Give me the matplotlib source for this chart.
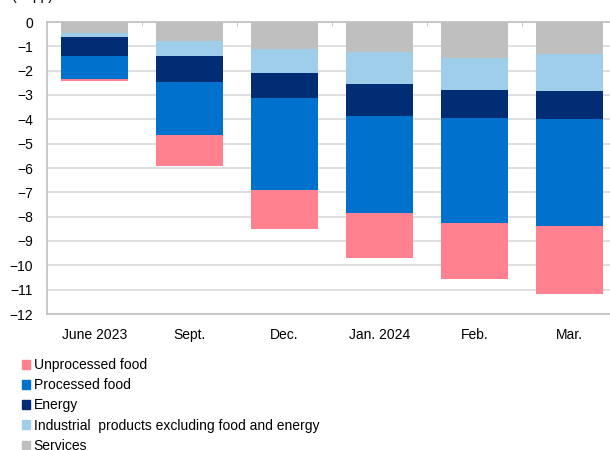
import matplotlib
matplotlib.use('Agg')
import matplotlib.pyplot as plt
from matplotlib.patches import Patch
import numpy as np

plt.rcParams['font.family'] = ['Liberation Sans', 'DejaVu Sans']

months = ["June 2023", "Sept.", "Dec.", "Jan. 2024", "Feb.", "Mar."]

# contributions in percentage points (stacked downward from zero)
services = [-0.46, -0.80, -1.11, -1.24, -1.46, -1.33]
industrial = [-0.15, -0.61, -0.99, -1.31, -1.34, -1.50]
energy = [-0.80, -1.05, -1.01, -1.33, -1.15, -1.15]
processed = [-0.94, -2.17, -3.79, -3.98, -4.30, -4.42]
unprocessed = [-0.08, -1.30, -1.62, -1.84, -2.30, -2.79]

series = [
    ("Services", services, "#BFBFBF"),
    ("Industrial  products excluding food and energy", industrial, "#9FCEEB"),
    ("Energy", energy, "#002D74"),
    ("Processed food", processed, "#0072CE"),
    ("Unprocessed food", unprocessed, "#FF808F"),
]

fig = plt.figure(figsize=(6.1, 4.5), dpi=100)
ax = fig.add_axes([47/610, 1-314/450, 570/610, 292/450])

x = np.arange(len(months))
bottom = np.zeros(len(months))
for name, vals, col in series:
    ax.bar(x, vals, 0.71, bottom=bottom, color=col, label=name, zorder=3)
    bottom += np.array(vals)

ax.set_xlim(-0.5, 5.5)
ax.set_ylim(-12, 0)
ax.set_yticks(range(-12, 1))
ax.yaxis.grid(True, color="#D9D9D9", linewidth=1.2, zorder=0)
ax.set_axisbelow(True)

for s in ["left", "top", "bottom"]:
    ax.spines[s].set_color("#BFBFBF")
    ax.spines[s].set_linewidth(1.2)
ax.spines["right"].set_visible(False)

ax.set_xticks(x)
ax.set_xticklabels(months, fontsize=10)
ax.tick_params(axis="x", length=0, pad=10)
ax.set_xticks(np.arange(0.5, 5.5, 1), minor=True)
ax.tick_params(axis="x", which="minor", bottom=False, top=True, direction="in",
               length=3, color="#BFBFBF")
ax.tick_params(axis="y", length=0, pad=10, labelsize=10)

# title sits mostly above the top edge, only its bottom shows
fig.text(12/610, 1.0, "(% pp)", fontsize=10, va="baseline")

handles = [Patch(color=c, label=n) for n, v, c in series[::-1]]
fig.legend(handles=handles, loc="upper left", bbox_to_anchor=(22/610, 1 - 358/450),
           frameon=False, fontsize=10, handlelength=0.6, handleheight=0.6,
           handletextpad=0.25, labelspacing=0.45, borderpad=0, borderaxespad=0)

fig.savefig("out.png", dpi=100)
